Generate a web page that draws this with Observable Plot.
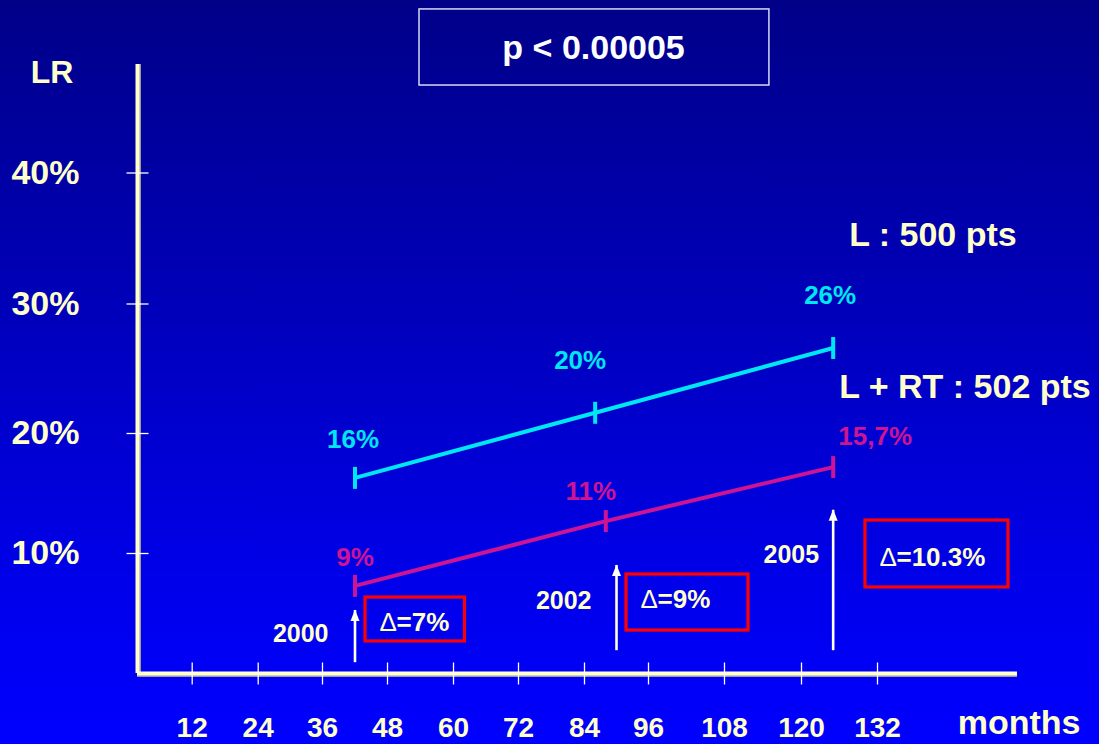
<!DOCTYPE html>
<html>
<head>
<meta charset="utf-8">
<script src="https://cdn.jsdelivr.net/npm/d3@7"></script>
<script src="https://cdn.jsdelivr.net/npm/@observablehq/plot@0.6"></script>
<style>
  html, body { margin: 0; padding: 0; width: 1099px; height: 744px; overflow: hidden;
    background: linear-gradient(to bottom, #000088 0%, #0000b8 40%, #0000ea 78%, #0000ff 100%); }
  #chart svg { display: block; }
</style>
</head>
<body>
<div id="chart"></div>
<script>
// ---------- data ----------
const xTicks = [12, 24, 36, 48, 60, 72, 84, 96, 108, 120, 132];
const yTicks = [10, 20, 30, 40];
const yTickLabels = ["10%", "20%", "30%", "40%"];
const yAxisLabel = "LR";
const xAxisLabel = "months";

const lName = "L : 500 pts";
const lMonths = [42, 86, 125];
const lValues = [16.3, 21.6, 26.6];
const lLabels = ["16%", "20%", "26%"];

const rtName = "L + RT : 502 pts";
const rtMonths = [42, 88, 125];
const rtValues = [7.3, 12.7, 17.2];
const rtLabels = ["9%", "11%", "15,7%"];

const followMonths = [42, 90, 125];
const followYears = ["2000", "2002", "2005"];
const arrowFrom = [0.9, 1.9, 1.9];
const arrowTo = [5.25, 9.0, 13.6];
const deltas = ["Δ=7%", "Δ=9%", "Δ=10.3%"];

const pValue = "p < 0.00005";

// ---------- styles ----------
const cream = "#ffffcc";
const cyan = "#00e6f2";
const magenta = "#cc1494";
const red = "#ff0000";

const lData = lMonths.map((m, i) => ({m, v: lValues[i], t: lLabels[i]}));
const rtData = rtMonths.map((m, i) => ({m, v: rtValues[i], t: rtLabels[i]}));
const arrows = followMonths.map((m, i) => ({m, from: arrowFrom[i], to: arrowTo[i], year: followYears[i]}));

// custom symbols (pixel-sized, drawn around the data point)
const vBar = {draw(ctx, size) { const r = Math.sqrt(size / Math.PI); ctx.moveTo(0, -r); ctx.lineTo(0, r); }};
const hBar = {draw(ctx, size) { const r = Math.sqrt(size / Math.PI); ctx.moveTo(-r, 0); ctx.lineTo(r, 0); }};
const head = {draw(ctx, size) { const r = Math.sqrt(size / Math.PI); ctx.moveTo(0, -1); ctx.lineTo(-r * 0.45, r * 1.05); ctx.lineTo(r * 0.45, r * 1.05); ctx.closePath(); }};

const pointLabel = (d, color, dx, dy, anchor = "middle") =>
  Plot.text([d], {x: "m", y: "v", text: "t", fill: color, fontSize: 26, fontWeight: "bold",
    lineAnchor: "bottom", textAnchor: anchor, dx, dy});

// annotation boxes (placement in data units)
const boxes = [
  {x1: 43.94, x2: 62.12, y1: 2.67, y2: 6.33, ty: 3.58},
  {x1: 91.88, x2: 111.74, y1: 3.58, y2: 8.25, ty: 5.42},
  {x1: 130.1, x2: 152.58, y1: 7.17, y2: 12.75, ty: 9.0}
].map((b, i) => ({...b, sym: deltas[i].slice(0, 1), rest: deltas[i].slice(1)}));

const yearOffsets = [[-26.5, 31], [-25, 43], [-14, 53]];

const chart = Plot.plot({
  width: 1099,
  height: 744,
  marginLeft: 137,
  marginBottom: 71,
  marginTop: 0,
  marginRight: 0,
  style: {background: "transparent", fontFamily: "'Liberation Sans', Arial, sans-serif", color: cream, overflow: "visible"},
  x: {type: "linear", domain: [0, 12, 24, 36, 48, 60, 72, 84, 96, 108, 120, 132, 154],
      range: [137, 191.7, 257.7, 322, 387, 453, 518, 584, 648, 724, 801, 877, 1017]},
  y: {type: "linear", domain: [0, 10, 20, 30, 40, 48],
      range: [673, 553, 433, 303.5, 172.5, 64]},
  marks: [
    // axis lines
    Plot.ruleY([0], {x1: 0, x2: 154, stroke: "#9a9aa8", strokeWidth: 2, dy: 2.5}),
    Plot.ruleX([0], {y1: 0, y2: 48, stroke: "#9a9aa8", strokeWidth: 2, dx: 2.5}),
    Plot.ruleY([0], {x1: 0, x2: 154, stroke: cream, strokeWidth: 4}),
    Plot.ruleX([0], {y1: 0, y2: 48, stroke: cream, strokeWidth: 4}),
    // ticks crossing the axes
    Plot.dot(xTicks, {x: d => d, y: () => 0, symbol: vBar, r: 11, stroke: "#ffffff", strokeWidth: 1.3, fill: "none"}),
    Plot.dot(yTicks, {x: () => 0, y: d => d, symbol: hBar, r: 11, stroke: "#ffffff", strokeWidth: 1.3, fill: "none"}),
    // axis labels
    Plot.axisX(xTicks, {anchor: "bottom", tickSize: 0, tickPadding: 44, fontSize: 28, fontWeight: "bold", fill: cream, tickFormat: d => String(d)}),
    Plot.axisY(yTicks, {anchor: "left", tickSize: 0, tickPadding: 58, fontSize: 34, fontWeight: "bold", fill: cream,
      tickFormat: d => yTickLabels[yTicks.indexOf(d)]}),
    Plot.text([yAxisLabel], {x: () => -18.76, y: () => 46.67, text: d => d, fontSize: 32, fontWeight: "bold", fill: cream, lineAnchor: "bottom"}),
    Plot.text([xAxisLabel], {x: () => 144.6, y: () => -5.0, text: d => d, fontSize: 34, fontWeight: "bold", fill: cream, lineAnchor: "bottom", textAnchor: "start"}),

    // p-value box
    Plot.rect([pValue], {x1: () => 53.82, x2: () => 115.0, y1: () => 46.45, y2: () => 52.06, fill: "none", stroke: "#d8d8f2", strokeWidth: 1.5}),
    Plot.text([pValue], {x: () => 85.7, y: () => 48.37, text: d => d, fontSize: 34, fontWeight: "bold", fill: "#ffffff", lineAnchor: "bottom"}),

    // series lines + caps
    Plot.line(lData, {x: "m", y: "v", stroke: cyan, strokeWidth: 4}),
    Plot.dot(lData, {x: "m", y: "v", symbol: vBar, r: 11, stroke: cyan, strokeWidth: 4, fill: "none"}),
    Plot.line(rtData, {x: "m", y: "v", stroke: magenta, strokeWidth: 4}),
    Plot.dot(rtData, {x: "m", y: "v", symbol: vBar, r: 11, stroke: magenta, strokeWidth: 4, fill: "none"}),

    // value labels
    pointLabel(lData[0], cyan, -2, -30),
    pointLabel(lData[1], cyan, -15, -44),
    pointLabel(lData[2], cyan, -3, -44.5),
    pointLabel(rtData[0], magenta, 0, -20),
    pointLabel(rtData[1], magenta, -15, -21),
    pointLabel(rtData[2], magenta, 42, -22),

    // series names
    Plot.text([lData[2]], {x: "m", y: "v", text: () => lName, fontSize: 34, fontWeight: "bold", fill: cream, lineAnchor: "bottom", textAnchor: "start", dx: 16, dy: -102.5}),
    Plot.text([rtData[2]], {x: "m", y: "v", text: () => rtName, fontSize: 34, fontWeight: "bold", fill: cream, lineAnchor: "bottom", textAnchor: "start", dx: 6, dy: -69.6}),

    // follow-up arrows
    Plot.ruleX(arrows, {x: "m", y1: "from", y2: "to", stroke: "#fffff0", strokeWidth: 2.6}),
    Plot.dot(arrows, {x: "m", y: "to", symbol: head, r: 10, fill: "#fffff0", stroke: "none"}),
    ...arrows.map((a, i) => Plot.text([a], {x: "m", y: "to", text: "year", fontSize: 25, fontWeight: "bold", fill: cream,
      lineAnchor: "bottom", textAnchor: "end", dx: yearOffsets[i][0], dy: yearOffsets[i][1]})),

    // delta boxes
    Plot.rect(boxes, {x1: "x1", x2: "x2", y1: "y1", y2: "y2", fill: "none", stroke: red, strokeWidth: 3.2}),
    Plot.text(boxes, {x: "x1", y: "ty", text: "sym", fontSize: 26, fontWeight: "normal", fill: cream, lineAnchor: "bottom", textAnchor: "start", dx: 14}),
    Plot.text(boxes, {x: "x1", y: "ty", text: "rest", fontSize: 26, fontWeight: "bold", fill: cream, lineAnchor: "bottom", textAnchor: "start", dx: 31})
  ]
});
document.getElementById("chart").appendChild(chart);
</script>
</body>
</html>
